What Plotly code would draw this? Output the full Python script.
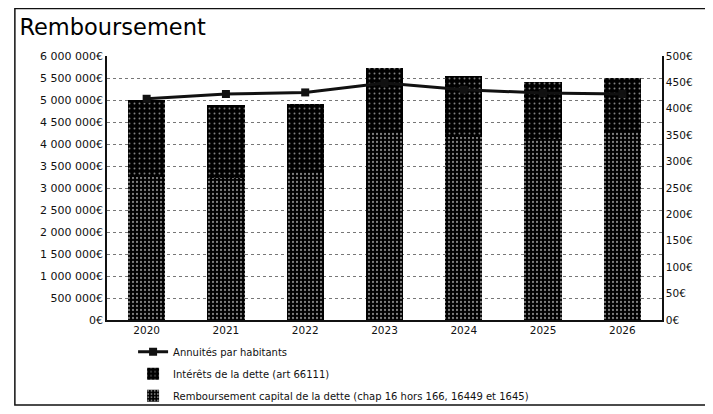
import plotly.graph_objects as go

years = ["2020", "2021", "2022", "2023", "2024", "2025", "2026"]
interets = [1760000, 1660000, 1550000, 1450000, 1380000, 1300000, 1220000]
capital = [3250000, 3220000, 3360000, 4280000, 4170000, 4110000, 4280000]
annuites_hab = [419, 428, 431, 449, 436, 430, 428]

left_ticks = [i * 500000 for i in range(13)]
left_text = ["0€"] + ["{:,}€".format(v).replace(",", " ") for v in left_ticks[1:]]
right_ticks = [i * 50 for i in range(11)]
right_text = ["{}€".format(v) for v in right_ticks]

FONT = "DejaVu Sans"

fig = go.Figure()
# capital at the bottom of the stack, interest on top
fig.add_trace(go.Bar(
    x=years, y=capital, name="Remboursement capital de la dette (chap 16 hors 166, 16449 et 1645)",
    marker=dict(color="#000000", line=dict(width=0),
                pattern=dict(shape=".", fgcolor="white", size=4, solidity=0.25)),
    legendrank=3, legendgroup="c",
))
fig.add_trace(go.Bar(
    x=years, y=interets, name="Intérêts de la dette (art 66111)",
    marker=dict(color="#000000", line=dict(width=0),
                pattern=dict(shape=".", fgcolor="white", size=5, solidity=0.12)),
    legendrank=2, legendgroup="i",
))
fig.add_trace(go.Scatter(
    x=years, y=annuites_hab, name="Annuités par habitants", yaxis="y2",
    mode="lines+markers", line=dict(color="#111111", width=3),
    marker=dict(symbol="square", size=8, color="#111111"),
    legendrank=1, legendgroup="a",
))

fig.update_layout(
    width=713, height=414,
    margin=dict(l=99, r=59, t=48, b=102),
    paper_bgcolor="white", plot_bgcolor="white",
    font=dict(family=FONT, size=10, color="#111111"),
    title=dict(text="Remboursement", x=0.016, xanchor="left", y=0.955, yanchor="middle",
               xref="container", yref="container",
               font=dict(family=FONT, size=22.5, color="#000000")),
    barmode="stack", bargap=0.53,
    showlegend=True,
    legend=dict(x=0.047, xanchor="left", y=-0.065, yanchor="top", orientation="v",
                traceorder="grouped", font=dict(family=FONT, size=10), tracegroupgap=3,
                itemwidth=30, bgcolor="rgba(0,0,0,0)"),
    xaxis=dict(showline=True, linecolor="#111111", linewidth=1.5, ticks="",
               tickfont=dict(size=10.5), showgrid=False),
    yaxis=dict(range=[0, 6000000], tickvals=left_ticks, ticktext=left_text,
               showline=True, linecolor="#111111", linewidth=1.5,
               showgrid=True, gridcolor="#777777", gridwidth=1, griddash="dot",
               zeroline=False, tickfont=dict(size=11)),
    yaxis2=dict(range=[0, 500], tickvals=right_ticks, ticktext=right_text,
                overlaying="y", side="right", showline=True, linecolor="#111111",
                linewidth=1.5, showgrid=False, zeroline=False, tickfont=dict(size=10.5)),
)

# scanned frame around the chart
fig.add_shape(type="rect", xref="paper", yref="paper",
              x0=-0.166, x1=1.12, y0=-0.322, y1=1.18,
              line=dict(color="#111111", width=1.5), layer="below")

fig.write_html("out.html")
